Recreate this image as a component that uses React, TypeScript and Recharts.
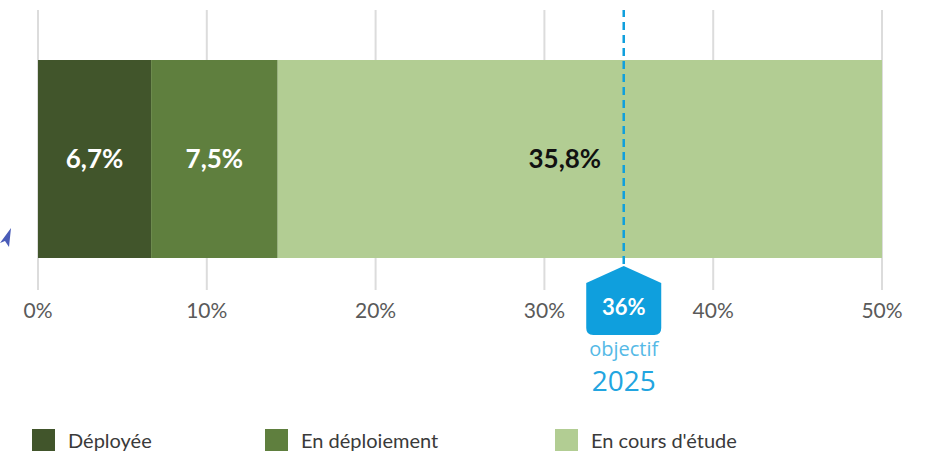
import { Bar, BarChart, CartesianGrid, Customized, LabelList, ReferenceLine, XAxis, YAxis } from 'recharts';

const seriesNames = ['Déployée', 'En déploiement', "En cours d'étude"];
const seriesKeys = ['deployee', 'deploiement', 'etude'];
const seriesValues = [6.7, 7.5, 35.8];
const seriesColors = ['#41552b', '#5f7f3e', '#b2cd93'];
const labelColors = ['#ffffff', '#ffffff', '#111111'];
const xTicks = [0, 10, 20, 30, 40, 50];
// the dashed marker sits a bit left of 36 in the picture
const objectifPosition = 34.7;
const objectifLabel = '36%';
const objectifText = 'objectif';
const objectifYear = '2025';

const row: Record<string, string | number> = { name: 'total' };
seriesKeys.forEach((k, i) => {
  row[k] = seriesValues[i];
});
const data = [row];

const BLUE = '#0f9fdd';

function fmtPct(v: unknown): string {
  return typeof v === 'number' ? `${v.toFixed(1).replace('.', ',')}%` : '';
}

function ObjectifBadge(props: { viewBox?: { x: number; y: number; height: number } }) {
  const vb = props.viewBox;
  if (!vb) return null;
  const cx = vb.x;
  const top = vb.y + vb.height - 24;
  const w = 75;
  const l = cx - w / 2;
  const r = cx + w / 2;
  const sh = top + 17;
  const bot = top + 69;
  const rad = 7;
  const d = `M${cx},${top} L${r},${sh} L${r},${bot - rad} Q${r},${bot} ${r - rad},${bot} L${l + rad},${bot} Q${l},${bot} ${l},${bot - rad} L${l},${sh} Z`;
  return (
    <g>
      <path d={d} fill={BLUE} />
      <text x={cx} y={top + 43} fill="#fff" fontSize={22} fontWeight={700} textAnchor="middle" dominantBaseline="middle" fontFamily="Lato, sans-serif">
        {objectifLabel}
      </text>
      <text x={cx} y={bot + 16} fill="#55b9e6" fontSize={20} textAnchor="middle" dominantBaseline="middle" fontFamily="'Open Sans', sans-serif">
        {objectifText}
      </text>
      <text x={cx} y={bot + 49} fill="#22a5e0" fontSize={28} textAnchor="middle" dominantBaseline="middle" fontFamily="'Open Sans', sans-serif">
        {objectifYear}
      </text>
    </g>
  );
}

function StrayArrow() {
  return <polygon points="0,243 11,228 9,247 5,241" fill="#4a5cb8" />;
}

export default function App(): React.ReactElement {
  return (
    <div style={{ position: 'absolute', left: 0, top: 0, width: 927, height: 451, background: '#fff' }}>
      <BarChart
        width={927}
        height={451}
        data={data}
        layout="vertical"
        margin={{ top: 10, right: 45, bottom: 131, left: 38 }}
      >
        <CartesianGrid horizontal={false} stroke="#dcdcdc" strokeWidth={2} />
        <XAxis
          type="number"
          domain={[0, 50]}
          ticks={xTicks}
          tickFormatter={(v: number) => `${v}%`}
          axisLine={false}
          tickLine={false}
          tickMargin={7}
          height={30}
          tick={{ fill: '#5a5a5a', fontSize: 21, fontFamily: 'Lato, sans-serif' }}
        />
        <YAxis type="category" dataKey="name" hide padding={{ top: 18, bottom: 0 }} />
        {seriesKeys.map((k, i) => (
          <Bar key={k} dataKey={k} name={seriesNames[i]} stackId="a" fill={seriesColors[i]} barSize={198} isAnimationActive={false}>
            <LabelList
              dataKey={k}
              position="center"
              formatter={fmtPct}
              fill={labelColors[i]}
              fontSize={26}
              fontWeight={700}
              fontFamily="Lato, sans-serif"
              offset={0}
              dx={i === 2 ? -15 : 0}
            />
          </Bar>
        ))}
        <ReferenceLine
          x={objectifPosition}
          stroke={BLUE}
          strokeWidth={2.5}
          strokeDasharray="8 5"
          label={<ObjectifBadge />}
        />
        <Customized component={StrayArrow} />
      </BarChart>
      <div
        style={{
          position: 'absolute',
          left: 0,
          top: 429,
          width: 927,
          height: 22,
          fontFamily: 'Lato, sans-serif',
          fontSize: 20,
          color: '#3a3a3a',
          overflow: 'hidden',
        }}
      >
        {seriesNames.map((n, i) => (
          <div
            key={n}
            style={{ position: 'absolute', left: [32, 265, 555][i], top: 0, display: 'flex', alignItems: 'center', height: 22, whiteSpace: 'nowrap' }}
          >
            <span style={{ display: 'inline-block', width: 23, height: 22, background: seriesColors[i], marginRight: 13 }} />
            <span>{n}</span>
          </div>
        ))}
      </div>
    </div>
  );
}
